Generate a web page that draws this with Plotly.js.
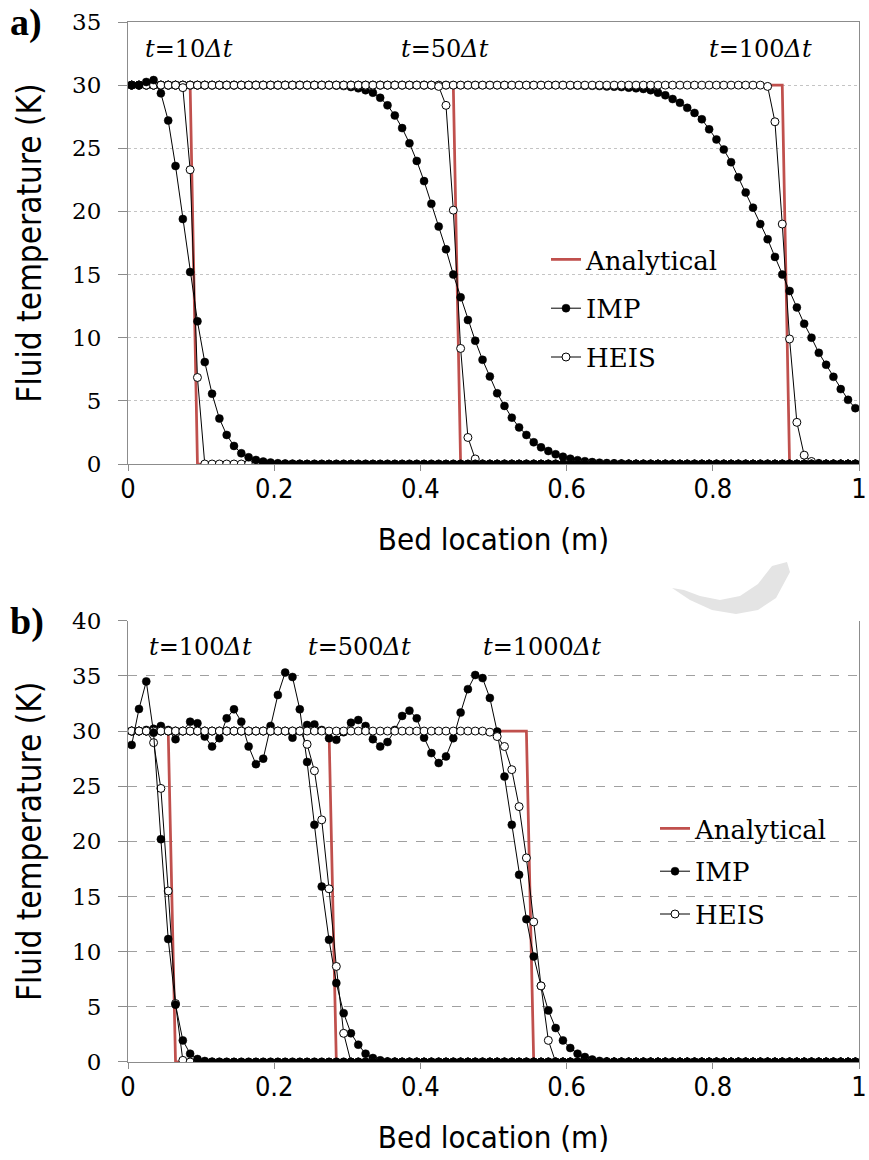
<!DOCTYPE html>
<html>
<head>
<meta charset="utf-8">
<script src="https://cdn.plot.ly/plotly-3.0.1.min.js"></script>
<style>html,body{margin:0;padding:0;background:#fff;}#chart{width:869px;height:1160px;}</style>
</head>
<body>
<div id="chart"></div>
<script>
// Bed location grid (cell centres, m)
const xGrid = [
  0.005,0.015,0.025,0.035,0.045,0.055,0.065,0.075,0.085,0.095,
  0.105,0.115,0.125,0.135,0.145,0.155,0.165,0.175,0.185,0.195,
  0.205,0.215,0.225,0.235,0.245,0.255,0.265,0.275,0.285,0.295,
  0.305,0.315,0.325,0.335,0.345,0.355,0.365,0.375,0.385,0.395,
  0.405,0.415,0.425,0.435,0.445,0.455,0.465,0.475,0.485,0.495,
  0.505,0.515,0.525,0.535,0.545,0.555,0.565,0.575,0.585,0.595,
  0.605,0.615,0.625,0.635,0.645,0.655,0.665,0.675,0.685,0.695,
  0.705,0.715,0.725,0.735,0.745,0.755,0.765,0.775,0.785,0.795,
  0.805,0.815,0.825,0.835,0.845,0.855,0.865,0.875,0.885,0.895,
  0.905,0.915,0.925,0.935,0.945,0.955,0.965,0.975,0.985,0.995];

// ---- Panel a) ----
const aImp10 = [
  30.0,30.0,30.25,30.4,29.35,27.2,23.6,19.4,15.2,11.3,
  8.07,5.56,3.6,2.3,1.43,0.85,0.53,0.32,0.19,0.11,
  0.06,0.03,0.02,0.01,0,0,0,0,0,0,
  0,0,0,0,0,0,0,0,0,0, 0,0,0,0,0,0,0,0,0,0,
  0,0,0,0,0,0,0,0,0,0, 0,0,0,0,0,0,0,0,0,0,
  0,0,0,0,0,0,0,0,0,0, 0,0,0,0,0,0,0,0,0,0,
  0,0,0,0,0,0,0,0,0,0];
const aHeis10 = [
  30,30,30,30,30,30,30,29.8,23.3,6.85,
  0,0,0,0,0,0,0,0,0,0, 0,0,0,0,0,0,0,0,0,0,
  0,0,0,0,0,0,0,0,0,0, 0,0,0,0,0,0,0,0,0,0,
  0,0,0,0,0,0,0,0,0,0, 0,0,0,0,0,0,0,0,0,0,
  0,0,0,0,0,0,0,0,0,0, 0,0,0,0,0,0,0,0,0,0,
  0,0,0,0,0,0,0,0,0,0];
const aImp50 = [
  30,30,30,30,30,30,30,30,30,30,
  30,30,30,30,30,30,30,30,30,30,
  30,30,30,30,30,30,30,30,29.97,29.93,
  29.85,29.75,29.6,29.4,29.0,28.4,27.6,26.6,25.4,24.0,
  22.4,20.6,18.8,17.0,15.0,13.2,11.4,9.76,8.25,6.93,
  5.6,4.6,3.67,2.9,2.3,1.72,1.32,1.03,0.77,0.58,
  0.42,0.3,0.22,0.15,0.1,0.07,0.05,0.03,0.02,0.01,
  0,0,0,0,0,0,0,0,0,0, 0,0,0,0,0,0,0,0,0,0,
  0,0,0,0,0,0,0,0,0,0];
const aHeis50 = [
  30,30,30,30,30,30,30,30,30,30,
  30,30,30,30,30,30,30,30,30,30,
  30,30,30,30,30,30,30,30,30,30,
  30,30,30,30,30,30,30,30,30,30,
  30,30,29.9,28.4,20.1,9.15,2.1,0.4,0,0,
  0,0,0,0,0,0,0,0,0,0, 0,0,0,0,0,0,0,0,0,0,
  0,0,0,0,0,0,0,0,0,0, 0,0,0,0,0,0,0,0,0,0,
  0,0,0,0,0,0,0,0,0,0];
const aImp100 = [
  30,30,30,30,30,30,30,30,30,30,
  30,30,30,30,30,30,30,30,30,30,
  30,30,30,30,30,30,30,30,30,30,
  30,30,30,30,30,30,30,30,30,30,
  30,30,30,30,30,30,30,30,30,30,
  30,30,30,30,30,30,30,30,30,30,
  29.98,29.97,29.96,29.95,29.93,29.9,29.88,29.85,29.8,29.75,
  29.7,29.6,29.4,29.2,28.9,28.6,28.2,27.8,27.3,26.5,
  25.7,24.9,23.9,22.7,21.5,20.3,19.0,17.8,16.4,15.0,
  13.7,12.4,11.1,10.0,8.8,7.86,6.9,5.93,5.08,4.42];
const aHeis100 = [
  30,30,30,30,30,30,30,30,30,30,
  30,30,30,30,30,30,30,30,30,30,
  30,30,30,30,30,30,30,30,30,30,
  30,30,30,30,30,30,30,30,30,30,
  30,30,30,30,30,30,30,30,30,30,
  30,30,30,30,30,30,30,30,30,30,
  30,30,30,30,30,30,30,30,30,30,
  30,30,30,30,30,30,30,30,30,30,
  30,30,30,30,30,30,30,29.9,27.1,19.0,
  9.9,3.3,0.7,0.2,0.05,0,0,0,0,0];
const aAna10X = [0.005,0.085,0.095,0.995];
const aAna50X = [0.005,0.445,0.455,0.995];
const aAna100X = [0.005,0.895,0.905,0.995];
const anaY = [30,30,0,0];

// ---- Panel b) ----
const bImp100 = [
  28.74,32.0,34.5,29.85,20.2,11.14,5.2,1.96,0.75,0.27,
  0.09,0.03,0.01,0,0,0,0,0,0,0,
  0,0,0,0,0,0,0,0,0,0, 0,0,0,0,0,0,0,0,0,0,
  0,0,0,0,0,0,0,0,0,0, 0,0,0,0,0,0,0,0,0,0,
  0,0,0,0,0,0,0,0,0,0, 0,0,0,0,0,0,0,0,0,0,
  0,0,0,0,0,0,0,0,0,0, 0,0,0,0,0,0,0,0,0,0];
const bHeis100 = [
  30,30,30,28.95,24.8,15.5,5.3,0.15,0,0,
  0,0,0,0,0,0,0,0,0,0, 0,0,0,0,0,0,0,0,0,0,
  0,0,0,0,0,0,0,0,0,0, 0,0,0,0,0,0,0,0,0,0,
  0,0,0,0,0,0,0,0,0,0, 0,0,0,0,0,0,0,0,0,0,
  0,0,0,0,0,0,0,0,0,0, 0,0,0,0,0,0,0,0,0,0,
  0,0,0,0,0,0,0,0,0,0];
const bImp500 = [
  30.0,30.0,30.1,30.2,30.46,30.1,29.26,30.0,30.85,30.7,
  29.5,28.6,29.35,31.15,31.97,30.85,28.6,27.0,27.5,30.46,
  33.27,35.3,34.9,31.97,27.2,21.5,15.9,11.08,7.15,4.43,
  2.6,1.57,0.75,0.36,0.15,0.05,0.02,0,0,0,
  0,0,0,0,0,0,0,0,0,0, 0,0,0,0,0,0,0,0,0,0,
  0,0,0,0,0,0,0,0,0,0, 0,0,0,0,0,0,0,0,0,0,
  0,0,0,0,0,0,0,0,0,0, 0,0,0,0,0,0,0,0,0,0];
const bHeis500 = [
  30,30,30,30,30,30,30,30,30,30,
  30,30,30,30,30,30,30,30,30,30,
  30,30,30,30,28.8,26.4,21.95,15.7,8.66,2.6,
  0,0,0,0,0,0,0,0,0,0, 0,0,0,0,0,0,0,0,0,0,
  0,0,0,0,0,0,0,0,0,0, 0,0,0,0,0,0,0,0,0,0,
  0,0,0,0,0,0,0,0,0,0, 0,0,0,0,0,0,0,0,0,0,
  0,0,0,0,0,0,0,0,0,0];
const bImp1000 = [
  30,30,30,30,30,30,30,30,30,30,
  30,30,30,30,30,30,30,30,30,30,
  30,30,29.4,30.0,30.55,30.6,30.1,29.35,29.2,29.9,
  30.76,31.0,30.46,29.26,28.6,29.0,30.1,31.37,31.85,31.15,
  29.4,28.0,27.1,27.7,29.35,31.67,33.8,35.08,34.8,33.0,
  29.95,25.87,21.5,16.97,12.95,9.56,6.9,4.67,3.08,1.96,
  1.27,0.75,0.45,0.22,0.1,0.05,0.02,0,0,0,
  0,0,0,0,0,0,0,0,0,0, 0,0,0,0,0,0,0,0,0,0,
  0,0,0,0,0,0,0,0,0,0];
const bHeis1000 = [
  30,30,30,30,30,30,30,30,30,30,
  30,30,30,30,30,30,30,30,30,30,
  30,30,30,30,30,30,30,30,30,30,
  30,30,30,30,30,30,30,30,30,30,
  30,30,30,30,30,30,30,30,30,29.9,
  29.5,28.6,26.5,23.15,18.5,12.7,6.9,1.96,0,0,
  0,0,0,0,0,0,0,0,0,0, 0,0,0,0,0,0,0,0,0,0,
  0,0,0,0,0,0,0,0,0,0, 0,0,0,0,0,0,0,0,0,0];
const bAna100X = [0.005,0.055,0.065,0.995];
const bAna500X = [0.005,0.275,0.285,0.995];
const bAna1000X = [0.005,0.545,0.555,0.995];

const aTimeLabels = ['<i>t</i>=10<i>Δt</i>','<i>t</i>=50<i>Δt</i>','<i>t</i>=100<i>Δt</i>'];
const bTimeLabels = ['<i>t</i>=100<i>Δt</i>','<i>t</i>=500<i>Δt</i>','<i>t</i>=1000<i>Δt</i>'];
const seriesNames = ['Analytical','IMP','HEIS'];

// ---- styles ----
const RED = '#C0504D';
const SERIF = 'DejaVu Serif, serif';
const NARROW = 'Liberation Sans Narrow, DejaVu Sans Condensed, Liberation Sans, sans-serif';

function ana(x, xa, ya, leg, show) {
  return {x: x, y: anaY, xaxis: xa, yaxis: ya, type: 'scatter', mode: 'lines',
    name: seriesNames[0], legend: leg, legendgroup: leg + 'ana', showlegend: show,
    line: {color: RED, width: 2.75}, hoverinfo: 'skip'};
}
function imp(y, xa, ya, leg, show) {
  return {x: xGrid, y: y, xaxis: xa, yaxis: ya, type: 'scatter', mode: 'lines+markers',
    name: seriesNames[1], legend: leg, legendgroup: leg + 'imp', showlegend: show,
    line: {color: '#000', width: 1},
    marker: {symbol: 'circle', size: 8, color: '#000', line: {color: '#000', width: 0.5}}};
}
function heis(y, xa, ya, leg, show) {
  return {x: xGrid, y: y, xaxis: xa, yaxis: ya, type: 'scatter', mode: 'lines+markers',
    name: seriesNames[2], legend: leg, legendgroup: leg + 'heis', showlegend: show,
    line: {color: '#000', width: 1},
    marker: {symbol: 'circle', size: 8, color: '#fff', line: {color: '#000', width: 1}}};
}

const traces = [
  ana(aAna10X, 'x', 'y', 'legend', true),
  ana(aAna50X, 'x', 'y', 'legend', false),
  ana(aAna100X, 'x', 'y', 'legend', false),
  imp(aImp100, 'x', 'y', 'legend', true),
  imp(aImp50, 'x', 'y', 'legend', false),
  heis(aHeis100, 'x', 'y', 'legend', true),
  heis(aHeis50, 'x', 'y', 'legend', false),
  heis(aHeis10, 'x', 'y', 'legend', false),
  imp(aImp10, 'x', 'y', 'legend', false),

  ana(bAna100X, 'x2', 'y2', 'legend2', true),
  ana(bAna500X, 'x2', 'y2', 'legend2', false),
  ana(bAna1000X, 'x2', 'y2', 'legend2', false),
  imp(bImp1000, 'x2', 'y2', 'legend2', true),
  imp(bImp500, 'x2', 'y2', 'legend2', false),
  heis(bHeis1000, 'x2', 'y2', 'legend2', true),
  heis(bHeis500, 'x2', 'y2', 'legend2', false),
  heis(bHeis100, 'x2', 'y2', 'legend2', false),
  imp(bImp100, 'x2', 'y2', 'legend2', false)
];

const GRAY = '#8c8c8c';
function xAxis(anchor, mirror) {
  return {domain: [0, 1], anchor: anchor, range: [0, 1], tick0: 0, dtick: 0.2,
    showline: true, linecolor: GRAY, linewidth: 1, mirror: mirror,
    ticks: 'outside', ticklen: 6, tickcolor: GRAY, showgrid: false, zeroline: false,
    tickfont: {family: NARROW, size: 27, color: '#000'}, ticklabelstandoff: -5,
    title: {text: 'Bed location (m)', font: {family: NARROW, size: 31, color: '#000'}, standoff: 24}};
}
function yAxis(anchor, dom, max, dash, gcolor) {
  return {domain: dom, anchor: anchor, range: [0, max], tick0: 0, dtick: 5,
    showline: true, linecolor: GRAY, linewidth: 1, mirror: true,
    ticks: 'outside', ticklen: 9, tickcolor: GRAY,
    showgrid: true, gridcolor: gcolor, griddash: dash, gridwidth: 1, zeroline: false,
    tickfont: {family: SERIF, size: 23, color: '#000'}, ticklabelstandoff: 12,
    title: {text: 'Fluid temperature (K)', font: {family: NARROW, size: 33, color: '#000'}, standoff: 20}};
}

function xp(px) { return (px - 128) / 731; }
function yp(py) { return (1062 - py) / 1040; }

const annotations = [];
const aLabX = [0.0836, 0.434, 0.865];
const bLabX = [0.0985, 0.316, 0.567];
aTimeLabels.forEach((t, i) => annotations.push({xref: 'x', yref: 'y', x: aLabX[i], y: 32.9,
  text: t, showarrow: false, font: {family: SERIF, size: 24, color: '#000'}}));
bTimeLabels.forEach((t, i) => annotations.push({xref: 'x2', yref: 'y2', x: bLabX[i], y: 37.6,
  text: t, showarrow: false, font: {family: SERIF, size: 24, color: '#000'}}));
annotations.push({xref: 'paper', yref: 'paper', x: xp(8), y: yp(22), xanchor: 'left', yanchor: 'middle',
  text: '<b>a)</b>', showarrow: false, font: {family: 'Liberation Serif, serif', size: 38, color: '#000'}});
annotations.push({xref: 'paper', yref: 'paper', x: xp(8), y: yp(621), xanchor: 'left', yanchor: 'middle',
  text: '<b>b)</b>', showarrow: false, font: {family: 'Liberation Serif, serif', size: 38, color: '#000'}});

// faint background watermark fragment between the panels
const wm = [[672,588],[690,600],[712,610],[736,614],[758,610],[776,598],[790,572],[787,562],[772,566],[758,584],[740,596],[720,600],[700,596],[684,590]];
const wmPath = 'M ' + wm.map(p => xp(p[0]).toFixed(4) + ' ' + yp(p[1]).toFixed(4)).join(' L ') + ' Z';

const legendStyle = (x, ytop, gap) => ({x: x, y: ytop, xanchor: 'left', yanchor: 'top',
  bgcolor: 'rgba(0,0,0,0)', borderwidth: 0, traceorder: 'grouped', tracegroupgap: gap,
  itemwidth: 30, font: {family: SERIF, size: 26, color: '#000'}});

const layout = {
  width: 869, height: 1160,
  margin: {l: 128, r: 10, t: 22, b: 98},
  paper_bgcolor: '#fff', plot_bgcolor: '#fff',
  showlegend: true,
  xaxis: xAxis('y', true),
  yaxis: yAxis('x', [0.575, 1], 35, 'dot', '#c4c4c4'),
  xaxis2: xAxis('y2', false),
  yaxis2: yAxis('x2', [0, 0.4243], 40, 'dash', '#a0a0a0'),
  legend: legendStyle(xp(546), yp(236), 12),
  legend2: legendStyle(xp(655), yp(805), 6),
  annotations: annotations,
  shapes: [{type: 'path', xref: 'paper', yref: 'paper', path: wmPath,
    fillcolor: '#e4e4e4', line: {width: 0}, layer: 'below'}]
};

Plotly.newPlot('chart', traces, layout, {staticPlot: true, displayModeBar: false});
</script>
</body>
</html>
